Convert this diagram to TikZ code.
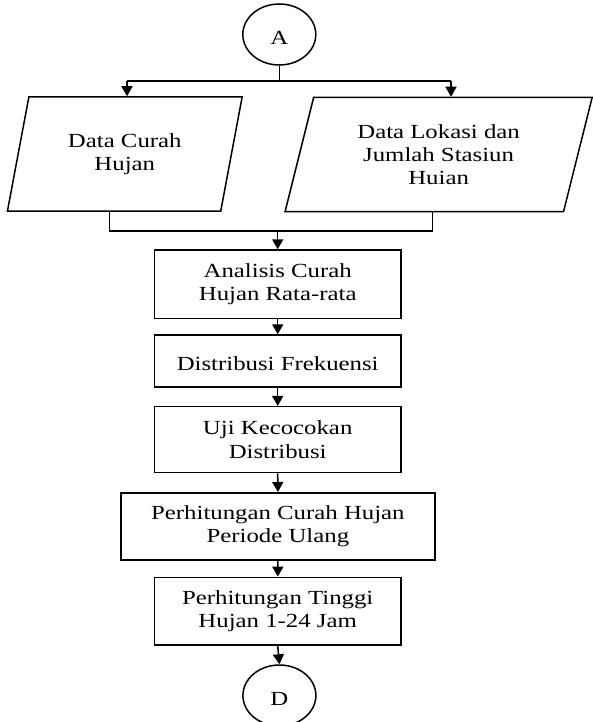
\documentclass[tikz,border=0pt]{standalone}
\usepackage{fontspec}
\setmainfont{Liberation Serif}[FakeStretch=1.24]
\usetikzlibrary{shapes.geometric,arrows.meta}
\begin{document}
\begin{tikzpicture}[x=1pt,y=-1pt,
  every node/.style={font=\fontsize{20}{23.3}\selectfont, align=center, inner sep=0pt,
    execute at begin node={\rule{0pt}{19.5pt}}},
  conn/.style={draw=black, line width=1.5pt, ellipse, minimum width=73pt, minimum height=61pt},
  proc/.style={draw=black, line width=1.5pt, rectangle, minimum width=246.7pt},
  io/.style={draw=black, line width=1.5pt, trapezium, trapezium left angle=73,
    trapezium right angle=107, trapezium stretches=true, minimum height=114pt},
  link/.style={draw=black, line width=1.5pt},
  arr/.style={link, -{Triangle[width=11pt,length=10pt]}}
]
\useasboundingbox (0,0) rectangle (593,722);

% connectors and data inputs
\node[conn] (A) at (279.3,34.5) {A};
\node[io, minimum width=235pt] (din1) at (124.8,154) {Data Curah\\Hujan};
\node[io, minimum width=307.3pt] (din2) at (438.6,154.5) {Data Lokasi dan\\Jumlah Stasiun\\Huian};

% process steps
\node[proc, minimum height=68.3pt] (b1) at (277.7,284.2) {Analisis Curah\\Hujan Rata-rata};
\node[proc, minimum height=51.7pt] (b2) at (277.7,360.9) {Distribusi Frekuensi};
\node[proc, minimum height=65.8pt] (b3) at (277.7,439.6) {Uji Kecocokan\\Distribusi};
\node[proc, minimum width=314.3pt, minimum height=67.3pt] (b4) at (277.9,526.4) {Perhitungan Curah Hujan\\Periode Ulang};
\node[proc, minimum height=67.7pt] (b5) at (277.7,611.2) {Perhitungan Tinggi\\Hujan 1-24 Jam};
\node[conn] (D) at (279.4,695.5) {D};

% split from A to both inputs
\coordinate (splitL) at (127,81);
\coordinate (splitR) at (451,81);
\draw[link] (A.south) -- (A.south |- splitL);
\draw[link] (splitL) -- (splitR);
\draw[arr] (splitL) -- (splitL |- din1.north);
\draw[arr] (splitR) -- (splitR |- din2.north);

% merge of both inputs into the first step
\coordinate (mergeL) at (109.7,231);
\coordinate (mergeR) at (432.3,231);
\draw[link] (mergeL |- din1.south) -- (mergeL) -- (mergeR) -- (mergeR |- din2.south);
\draw[arr] (b1.north |- mergeL) -- (b1.north);

% main chain
\draw[arr] (b1.south) -- (b2.north);
\draw[arr] (b2.south) -- (b3.north);
\draw[arr] (b3.south) -- (b4.north);
\draw[arr] (b4.south) -- (b5.north);
\draw[arr] (b5.south) -- (D.north);
\end{tikzpicture}
\end{document}
